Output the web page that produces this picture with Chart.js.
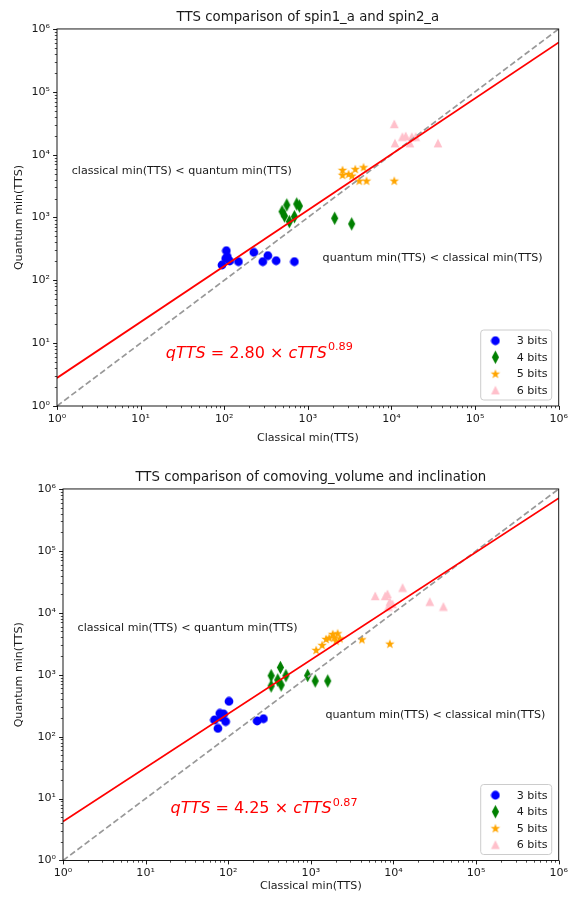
<!DOCTYPE html>
<html>
<head>
<meta charset="utf-8">
<script src="https://cdn.jsdelivr.net/npm/chart.js@4.4.1/dist/chart.umd.min.js"></script>
<style>
  body { margin: 0; background: #fff; }
  .box { position: relative; width: 574px; height: 449px; }
</style>
</head>
<body>
<div class="box"><canvas id="spinChart" width="574" height="449"></canvas></div>
<div class="box"><canvas id="comovingChart" width="574" height="449"></canvas></div>
<script>
// axis ticks (decades) and their labels
const tickExps = [0, 1, 2, 3, 4, 5, 6];
const tickLabels = ['10⁰', '10¹', '10²', '10³', '10⁴', '10⁵', '10⁶'];
const bitLabels = ['3 bits', '4 bits', '5 bits', '6 bits'];

// spin1_a and spin2_a : classical vs quantum min(TTS)
const spinC3 = [106, 109, 94, 116, 148, 226, 289, 332, 418, 690, 104];
const spinQ3 = [296, 238, 175, 203, 198, 279, 198, 247, 205, 198, 222];
const spinC4 = [492, 525, 560, 601, 690, 736, 792, 2090, 3340];
const spinQ4 = [1240, 1060, 1580, 860, 1030, 1640, 1520, 970, 790];
const spinC5 = [2600, 2600, 3070, 3370, 3690, 4120, 4630, 5030, 10800];
const spinQ5 = [5700, 4750, 4920, 4630, 5900, 3850, 6300, 3850, 3850];
const spinC6 = [10800, 11000, 13500, 14800, 16600, 17500, 19500, 36000];
const spinQ6 = [30800, 15200, 19300, 19800, 15200, 19300, 19300, 15200];
const spinFitX = [1, 1e6];
const spinFitY = [2.8, 6.1e5];
const spinCoef = '2.80';
const spinExp = '0.89';

// comoving_volume and inclination
const comC3 = [68, 75, 79, 88, 93, 102, 224, 267, 82];
const comQ3 = [186, 136, 238, 232, 175, 372, 179, 195, 205];
const comC4 = [331, 331, 428, 397, 437, 499, 915, 1130, 1600];
const comQ4 = [658, 966, 1310, 823, 683, 966, 972, 793, 793];
const comC5 = [1160, 1370, 1530, 1670, 1840, 1920, 2110, 2020, 2250, 4150, 9040];
const comQ5 = [2510, 3020, 3780, 3960, 4550, 4020, 4670, 3550, 3870, 3730, 3170];
const comC6 = [6010, 7940, 8460, 9040, 9720, 8700, 12900, 27500, 40200];
const comQ6 = [18700, 18700, 20100, 15100, 13900, 12600, 25500, 15100, 12600];
const comFitX = [1, 1e6];
const comFitY = [4.25, 7.1e5];
const comCoef = '4.25';
const comExp = '0.87';

// y = x reference
const diagX = [1, 1e6];
const diagY = [1, 1e6];

const FONT = "'DejaVu Sans', sans-serif";
const TEXT = '#1a1a1a';

function marker(w, h, color, draw) {
  const c = document.createElement('canvas');
  c.width = w; c.height = h;
  const g = c.getContext('2d');
  g.fillStyle = color;
  g.beginPath();
  draw(g, w, h);
  g.closePath();
  g.fill();
  return c;
}

const dotImg = marker(10, 10, '#0000ff', g => g.arc(5, 5, 4.4, 0, Math.PI * 2));
const diamondImg = marker(9, 15, '#008000', g => {
  g.moveTo(4.5, 0.8); g.lineTo(8.1, 7.5); g.lineTo(4.5, 14.2); g.lineTo(0.9, 7.5);
});
const starImg = marker(12, 12, '#ffa500', g => {
  for (let i = 0; i < 10; i++) {
    const r = i % 2 ? 2.0 : 5.0;
    const a = -Math.PI / 2 + i * Math.PI / 5;
    const px = 6 + r * Math.cos(a), py = 6.4 + r * Math.sin(a);
    if (i === 0) g.moveTo(px, py); else g.lineTo(px, py);
  }
});
const triImg = marker(10, 10, '#ffc0cb', g => {
  g.moveTo(5, 0.6); g.lineTo(9.4, 9.2); g.lineTo(0.6, 9.2);
});
const markerImgs = [dotImg, diamondImg, starImg, triImg];

const pts = (xs, ys) => xs.map((v, i) => ({ x: v, y: ys[i] }));

function drawEquation(ctx, x, y, coef, exp) {
  const size = 16;
  const it = `italic ${size}px ${FONT}`;
  const rm = `${size}px ${FONT}`;
  const parts = [
    ['qTTS', it, 0], [' = ', rm, 0], [coef, rm, 0], [' × ', rm, 0],
    ['cTTS', it, 0], [exp, `${size * 0.7}px ${FONT}`, -size * 0.48]
  ];
  ctx.fillStyle = '#ff0000';
  ctx.textBaseline = 'alphabetic';
  ctx.textAlign = 'left';
  let cx = x;
  parts.forEach(([t, f, dy]) => {
    ctx.font = f;
    ctx.fillText(t, cx, y + dy);
    cx += ctx.measureText(t).width + (t === 'cTTS' ? 1 : 0);
  });
}

const decor = {
  id: 'decor',
  afterDatasetsDraw(chart, args, opts) {
    const { ctx, chartArea: a, scales: { x, y } } = chart;
    ctx.save();

    // minor and major ticks, pointing outward
    ctx.strokeStyle = '#000';
    for (let e = 0; e <= 6; e++) {
      for (let m = 1; m < 10; m++) {
        if (e === 6 && m > 1) break;
        const v = m * Math.pow(10, e);
        const len = m === 1 ? 3.9 : 2.2;
        ctx.lineWidth = m === 1 ? 0.9 : 0.7;
        const px = Math.round(x.getPixelForValue(v)) + 0.5;
        const py = Math.round(y.getPixelForValue(v)) + 0.5;
        ctx.beginPath();
        ctx.moveTo(px, a.bottom); ctx.lineTo(px, a.bottom + len);
        ctx.moveTo(a.left - len, py); ctx.lineTo(a.left, py);
        ctx.stroke();
      }
    }

    // frame
    ctx.lineWidth = 0.9;
    ctx.strokeStyle = '#000';
    ctx.strokeRect(a.left, a.top, a.right - a.left, a.bottom - a.top);

    // region annotations
    ctx.fillStyle = TEXT;
    ctx.font = `11.1px ${FONT}`;
    ctx.textAlign = 'left';
    ctx.textBaseline = 'alphabetic';
    ctx.fillText('classical min(TTS) < quantum min(TTS)', x.getPixelForValue(1.5), y.getPixelForValue(5000));
    ctx.fillText('quantum min(TTS) < classical min(TTS)', x.getPixelForValue(1500), y.getPixelForValue(200));

    drawEquation(ctx, x.getPixelForValue(20), y.getPixelForValue(5.8), opts.coef, opts.exp);

    // legend, lower right
    const bw = 71, bh = 70;
    const bx = a.right - 7 - bw, by = a.bottom - 6 - bh;
    const r = 3;
    ctx.beginPath();
    ctx.moveTo(bx + r, by);
    ctx.arcTo(bx + bw, by, bx + bw, by + bh, r);
    ctx.arcTo(bx + bw, by + bh, bx, by + bh, r);
    ctx.arcTo(bx, by + bh, bx, by, r);
    ctx.arcTo(bx, by, bx + bw, by, r);
    ctx.closePath();
    ctx.fillStyle = 'rgba(255,255,255,0.8)';
    ctx.fill();
    ctx.strokeStyle = '#cccccc';
    ctx.lineWidth = 1;
    ctx.stroke();

    ctx.font = `11.1px ${FONT}`;
    ctx.textBaseline = 'middle';
    chart.data.datasets.forEach(ds => {
      if (!ds.bit) return;
      const img = ds.pointStyle;
      const rowY = by + 10.7 + (ds.bit - 1) * 16.5;
      ctx.drawImage(img, bx + 14.7 - img.width / 2, rowY - img.height / 2);
      ctx.fillStyle = TEXT;
      ctx.fillText(ds.label, bx + 36, rowY + 0.5);
    });

    ctx.restore();
  }
};

function makeChart(id, cfg) {
  const scatterSets = cfg.series.map((s, i) => ({
    label: bitLabels[i],
    bit: i + 1,
    data: pts(s[0], s[1]),
    pointStyle: markerImgs[i],
    pointRadius: 4,
    pointHoverRadius: 4,
    order: 2
  }));
  const lineSets = [
    { data: pts(diagX, diagY), showLine: true, borderColor: '#999999', borderWidth: 1.7,
      borderDash: [6, 3], pointRadius: 0, order: 1 },
    { data: pts(cfg.fitX, cfg.fitY), showLine: true, borderColor: '#ff0000', borderWidth: 1.8,
      pointRadius: 0, order: 0 }
  ];

  const axisTicks = {
    color: TEXT,
    font: { family: FONT, size: 11.1 },
    maxRotation: 0,
    autoSkip: false,
    callback: v => tickLabels[tickExps.indexOf(Math.round(Math.log10(v)))]
  };

  return new Chart(document.getElementById(id), {
    type: 'scatter',
    data: { datasets: [...scatterSets, ...lineSets] },
    plugins: [decor],
    options: {
      responsive: false,
      animation: false,
      devicePixelRatio: 1,
      layout: { padding: { left: 0, right: 14, top: 0, bottom: 0 } },
      plugins: {
        legend: { display: false },
        tooltip: { enabled: false },
        title: {
          display: true,
          fullSize: false,
          text: cfg.title,
          color: TEXT,
          font: { family: FONT, size: 13.3, weight: 'normal' },
          padding: cfg.titlePad
        },
        decor: { coef: cfg.coef, exp: cfg.exp }
      },
      scales: {
        x: {
          type: 'logarithmic',
          position: 'bottom',
          min: 1,
          max: 1e6,
          grid: { display: false, drawTicks: false },
          border: { display: false },
          ticks: { ...axisTicks, padding: 6 },
          afterBuildTicks: s => { s.ticks = tickExps.map(e => ({ value: Math.pow(10, e), major: true })); },
          afterFit: s => { s.height = cfg.xHeight; },
          title: {
            display: true,
            text: 'Classical min(TTS)',
            color: TEXT,
            font: { family: FONT, size: 11.1 },
            padding: { top: 0, bottom: cfg.xTitlePad }
          }
        },
        y: {
          type: 'logarithmic',
          position: 'left',
          min: 1,
          max: 1e6,
          grid: { display: false, drawTicks: false },
          border: { display: false },
          ticks: { ...axisTicks, padding: 7 },
          afterBuildTicks: s => { s.ticks = tickExps.map(e => ({ value: Math.pow(10, e), major: true })); },
          afterFit: s => { s.width = cfg.yWidth; },
          title: {
            display: true,
            text: 'Quantum min(TTS)',
            color: TEXT,
            font: { family: FONT, size: 11.1 },
            padding: { top: 12.3, bottom: 0 }
          }
        }
      }
    }
  });
}

makeChart('spinChart', {
  title: 'TTS comparison of spin1_a and spin2_a',
  series: [[spinC3, spinQ3], [spinC4, spinQ4], [spinC5, spinQ5], [spinC6, spinQ6]],
  fitX: spinFitX, fitY: spinFitY, coef: spinCoef, exp: spinExp,
  titlePad: { top: 10, bottom: 3 },
  xHeight: 43, xTitlePad: 4, yWidth: 57
});

makeChart('comovingChart', {
  title: 'TTS comparison of comoving_volume and inclination',
  series: [[comC3, comQ3], [comC4, comQ4], [comC5, comQ5], [comC6, comQ6]],
  fitX: comFitX, fitY: comFitY, coef: comCoef, exp: comExp,
  titlePad: { top: 21, bottom: 3 },
  xHeight: 37.5, xTitlePad: 5.3, yWidth: 63
});
</script>
</body>
</html>
